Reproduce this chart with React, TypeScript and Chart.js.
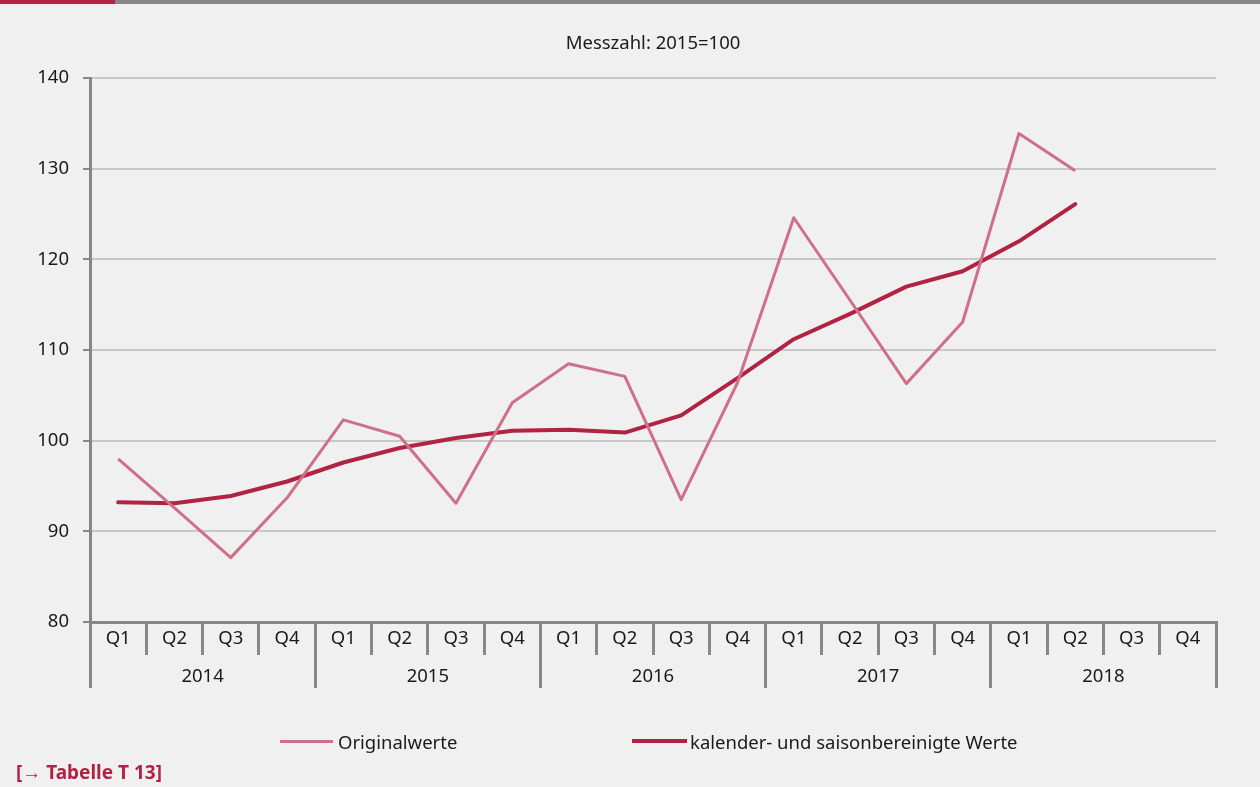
import React, { useEffect, useRef } from "react";
import { Chart, registerables } from "chart.js";

Chart.register(...registerables);

const quarterLabels = [
  "Q1", "Q2", "Q3", "Q4",
  "Q1", "Q2", "Q3", "Q4",
  "Q1", "Q2", "Q3", "Q4",
  "Q1", "Q2", "Q3", "Q4",
  "Q1", "Q2", "Q3", "Q4",
];
const yearLabels = ["2014", "2015", "2016", "2017", "2018"];

const originalwerte = [
  98.0, 92.6, 87.1, 93.7,
  102.3, 100.5, 93.1, 104.2,
  108.5, 107.1, 93.5, 106.4,
  124.6, 115.5, 106.3, 113.1,
  133.9, 129.8, null, null,
];
const bereinigteWerte = [
  93.2, 93.1, 93.9, 95.5,
  97.6, 99.2, 100.3, 101.1,
  101.2, 100.9, 102.8, 106.9,
  111.2, 114.0, 117.0, 118.7,
  122.0, 126.1, null, null,
];

const titleText = "Messzahl: 2015=100";
const legendOriginal = "Originalwerte";
const legendBereinigt = "kalender- und saisonbereinigte Werte";
const footnote = "[\u2192 Tabelle T 13]";

const PINK = "rgb(206,112,137)";
const DARKRED = "rgb(176,35,66)";
const AXIS = "#878787";
const GRID = "#c8c8c8";
const TEXT = "#1a1a1a";
const BG = "#f0f0f0";
const FONT = "'Noto Sans', 'Open Sans', sans-serif";
const FS = 18.5;

export default function App() {
  const canvasRef = useRef<HTMLCanvasElement | null>(null);

  useEffect(() => {
    document.body.style.margin = "0";
    document.body.style.background = BG;
    const canvas = canvasRef.current;
    if (!canvas) return;
    const chart = new Chart(canvas, {
      type: "line",
      data: {
        labels: quarterLabels,
        datasets: [
          {
            label: legendOriginal,
            data: originalwerte,
            borderColor: PINK,
            backgroundColor: PINK,
            borderWidth: 3,
            pointRadius: 0,
            tension: 0,
            borderJoinStyle: "round",
            xAxisID: "x",
          },
          {
            label: legendBereinigt,
            data: bereinigteWerte,
            borderColor: DARKRED,
            backgroundColor: DARKRED,
            borderWidth: 4,
            pointRadius: 0,
            tension: 0,
            borderJoinStyle: "round",
            borderCapStyle: "round",
            xAxisID: "x",
          },
        ],
      },
      options: {
        responsive: false,
        animation: false,
        layout: { padding: { left: 0, right: 44, top: 0, bottom: 99 } },
        plugins: {
          legend: { display: false },
          tooltip: { enabled: false },
          title: {
            display: true,
            fullSize: false,
            text: titleText,
            color: TEXT,
            font: { family: FONT, size: FS, weight: "normal" },
            padding: { top: 33, bottom: 23 },
          },
        },
        scales: {
          x: {
            type: "category",
            position: "bottom",
            offset: true,
            weight: 0,
            grid: {
              offset: true,
              drawOnChartArea: false,
              drawTicks: true,
              tickLength: 33,
              color: AXIS,
              lineWidth: 3,
            },
            border: { display: true, color: AXIS, width: 3 },
            ticks: {
              color: TEXT,
              font: { family: FONT, size: FS },
              padding: -27,
              maxRotation: 0,
              minRotation: 0,
              autoSkip: false,
            },
            afterFit: (scale: any) => {
              scale.height = 33;
            },
          },
          x2: {
            type: "category",
            position: "bottom",
            labels: yearLabels,
            offset: true,
            weight: 1,
            grid: {
              offset: true,
              drawOnChartArea: false,
              drawTicks: true,
              tickLength: 33,
              color: AXIS,
              lineWidth: 3,
            },
            border: { display: false },
            ticks: {
              color: TEXT,
              font: { family: FONT, size: FS },
              padding: -22,
              maxRotation: 0,
              minRotation: 0,
              autoSkip: false,
            },
            afterFit: (scale: any) => {
              scale.height = 33;
            },
          },
          y: {
            type: "linear",
            position: "left",
            min: 80,
            max: 140,
            ticks: {
              stepSize: 10,
              color: TEXT,
              font: { family: FONT, size: FS },
              padding: 14,
            },
            grid: {
              color: GRID,
              lineWidth: 2,
              drawTicks: true,
              tickLength: 7,
              tickColor: AXIS,
              tickWidth: 2,
            },
            border: { display: true, color: AXIS, width: 3 },
            afterFit: (scale: any) => {
              scale.width = 90;
            },
          },
        },
      },
    });
    return () => chart.destroy();
  }, []);

  return (
    <div style={{ position: "relative", width: 1260, height: 787, background: BG, overflow: "hidden", fontFamily: FONT }}>
      <div style={{ position: "absolute", left: 0, top: 0, width: 1260, height: 4, background: AXIS }} />
      <div style={{ position: "absolute", left: 0, top: 0, width: 115, height: 4, background: DARKRED }} />
      <canvas ref={canvasRef} width={1260} height={787} style={{ display: "block", position: "absolute", left: 0, top: 0 }} />
      <div style={{ position: "absolute", left: 280, top: 728, height: 26, display: "flex", alignItems: "center", fontSize: FS, color: TEXT }}>
        <span style={{ display: "inline-block", width: 53, height: 3, background: PINK, marginRight: 5 }} />
        <span>{legendOriginal}</span>
      </div>
      <div style={{ position: "absolute", left: 632, top: 728, height: 26, display: "flex", alignItems: "center", fontSize: FS, color: TEXT }}>
        <span style={{ display: "inline-block", width: 55, height: 4, background: DARKRED, marginRight: 3 }} />
        <span>{legendBereinigt}</span>
      </div>
      <div style={{ position: "absolute", left: 16, top: 759, fontSize: 19, fontWeight: "bold", color: DARKRED, lineHeight: "26px" }}>
        {footnote}
      </div>
    </div>
  );
}
